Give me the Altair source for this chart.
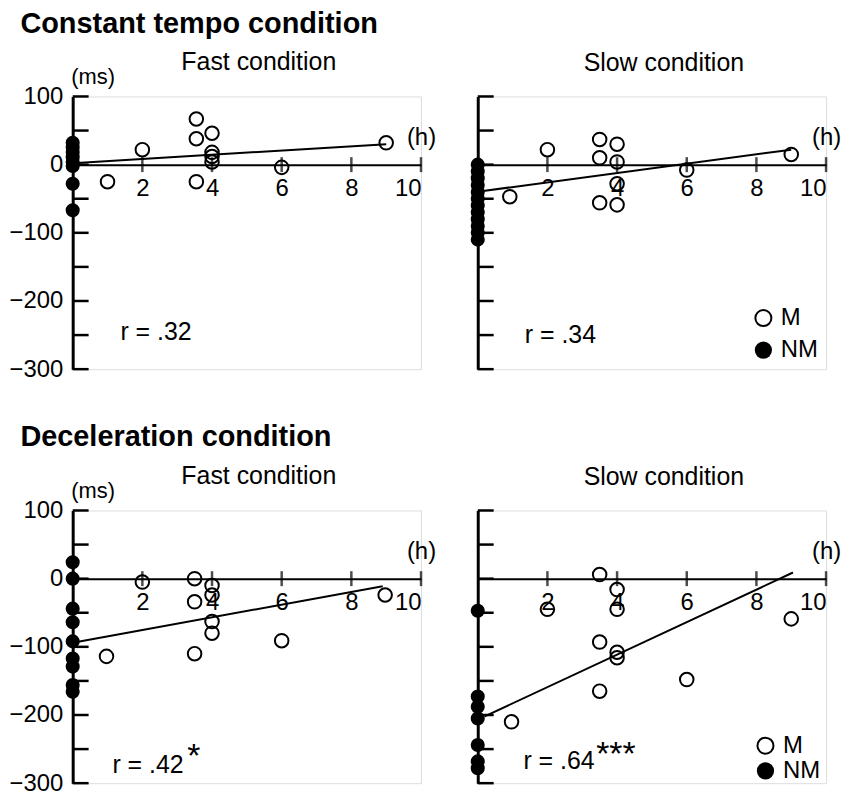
import altair as alt
import pandas as pd

# ---------------- data ----------------
X_TICKS = [2, 4, 6, 8, 10]
Y_TICKS = [100, 50, 0, -50, -100, -150, -200, -250, -300]
Y_LABELS = [100, 0, -100, -200, -300]

# Constant tempo – Fast
tl_m_x = [1.0, 2.0, 3.55, 3.55, 3.55, 4.0, 4.0, 4.0, 4.0, 6.0, 9.0]
tl_m_y = [-25, 22, 67, 38, -25, 46, 18, 12, 4, -4, 32]
tl_nm_y = [32, 25, 18, 11, 4, -2, -28, -67]
tl_line_x = [0, 9]
tl_line_y = [2, 30]

# Constant tempo – Slow
tr_m_x = [0.92, 2.0, 3.5, 3.5, 3.5, 4.0, 4.0, 4.0, 4.0, 6.0, 9.0]
tr_m_y = [-47, 22, 37, 10, -56, 30, 4, -28, -59, -8, 15]
tr_nm_y = [0, -10, -20, -30, -40, -50, -60, -70, -80, -90, -100, -110]
tr_line_x = [0.1, 9]
tr_line_y = [-39, 22]

# Deceleration – Fast
bl_m_x = [0.97, 2.0, 3.5, 3.5, 3.5, 4.0, 4.0, 4.0, 4.0, 6.0, 8.97]
bl_m_y = [-114, -5, 0, -34, -110, -10, -24, -63, -80, -91, -24]
bl_nm_y = [24, 0, -44, -64, -92, -117, -129, -156, -166]
bl_line_x = [0, 8.9]
bl_line_y = [-94, -11]

# Deceleration – Slow
br_m_x = [0.97, 2.0, 3.5, 3.5, 3.5, 4.0, 4.0, 4.0, 4.0, 6.0, 9.0]
br_m_y = [-210, -45, 6, -93, -165, -16, -45, -108, -116, -148, -59]
br_nm_y = [-47, -173, -188, -205, -244, -268, -278]
br_line_x = [0.2, 9.05]
br_line_y = [-202, 9]

FONT = "Liberation Sans"
W, H = 350, 274

xscale = alt.Scale(domain=[0, 10], nice=False, zero=False)
yscale = alt.Scale(domain=[-300, 100], nice=False, zero=False)

xaxis = alt.Axis(values=X_TICKS, offset=-H * 300 / 400, ticks=False, tickSize=0,
                 labelPadding=12, labelFontSize=24, labelColor="black", labelFont=FONT,
                 domainWidth=2, domainColor="black", grid=False,
                 title="(h)", titleX=350, titleY=-27, titleAngle=0, titleAlign="center",
                 titleBaseline="middle", titleFontSize=24, titleFontWeight="normal",
                 titleColor="black", titleFont=FONT)

yaxis_left = alt.Axis(values=Y_LABELS, ticks=False, tickSize=0, labelPadding=10,
                      labelFontSize=24, labelColor="black", labelFont=FONT,
                      domainWidth=3, domainColor="black", grid=False,
                      title="(ms)", titleX=20, titleY=-20, titleAngle=0, titleAlign="center",
                      titleBaseline="middle", titleFontSize=22, titleFontWeight="normal",
                      titleColor="black", titleFont=FONT)

yaxis_right = alt.Axis(labels=False, ticks=False, domainWidth=3, domainColor="black",
                       grid=False, title=None)


def panel(mx, my, nmy, lx, ly, r_label, r_pos, star, star_pos, subtitle, left, legend):
    yaxis = yaxis_left if left else yaxis_right
    X = alt.X("x:Q", scale=xscale, axis=xaxis)
    Y = alt.Y("y:Q", scale=yscale, axis=yaxis)

    m_df = pd.DataFrame({"x": mx, "y": my})
    nm_df = pd.DataFrame({"x": [0] * len(nmy), "y": nmy})
    line_df = pd.DataFrame({"x": lx, "y": ly})
    xt_df = pd.DataFrame({"x": X_TICKS, "y": [0] * len(X_TICKS)})
    yt_df = pd.DataFrame({"y": Y_TICKS})

    layers = [
        alt.Chart(line_df).mark_line(color="black", strokeWidth=2).encode(x=X, y=Y),
        alt.Chart(xt_df).mark_tick(orient="vertical", color="black", size=15, thickness=2.5)
        .encode(x=X, y=Y),
        alt.Chart(yt_df).mark_rule(color="black", strokeWidth=2.5)
        .encode(y=Y, x=alt.value(0), x2=alt.value(16)),
        alt.Chart(m_df).mark_point(shape="circle", filled=False, color="black",
                                   size=185, strokeWidth=2, opacity=1).encode(x=X, y=Y),
        alt.Chart(nm_df).mark_circle(color="black", size=200, opacity=1).encode(x=X, y=Y),
    ]

    txt = pd.DataFrame({"x": [r_pos[0]], "y": [r_pos[1]], "t": [r_label]})
    layers.append(alt.Chart(txt).mark_text(align="left", baseline="middle", fontSize=25,
                                           font=FONT, color="black")
                  .encode(x=X, y=Y, text="t:N"))
    if star:
        st = pd.DataFrame({"x": [star_pos[0]], "y": [star_pos[1]], "t": [star]})
        layers.append(alt.Chart(st).mark_text(align="left", baseline="alphabetic", fontSize=34,
                                              font=FONT, color="black")
                      .encode(x=X, y=Y, text="t:N"))
    if legend:
        lx0, ly0, ly1 = legend
        lg_m = pd.DataFrame({"x": [lx0], "y": [ly0]})
        lg_nm = pd.DataFrame({"x": [lx0], "y": [ly1]})
        lg_t = pd.DataFrame({"x": [lx0 + 0.5, lx0 + 0.5], "y": [ly0, ly1], "t": ["M", "NM"]})
        layers += [
            alt.Chart(lg_m).mark_point(shape="circle", filled=False, color="black",
                                       size=260, strokeWidth=2, opacity=1).encode(x=X, y=Y),
            alt.Chart(lg_nm).mark_circle(color="black", size=300, opacity=1).encode(x=X, y=Y),
            alt.Chart(lg_t).mark_text(align="left", baseline="middle", fontSize=24,
                                      font=FONT, color="black").encode(x=X, y=Y, text="t:N"),
        ]

    return alt.layer(*layers).properties(
        width=W, height=H,
        title=alt.TitleParams(subtitle, fontSize=25, fontWeight="normal", font=FONT,
                              anchor="middle", frame="group", offset=-9 if left else 19,
                              dx=12, color="black"),
    )


tl = panel(tl_m_x, tl_m_y, tl_nm_y, tl_line_x, tl_line_y, "r = .32", (1.37, -245),
           None, None, "Fast condition", True, None)
tr = panel(tr_m_x, tr_m_y, tr_nm_y, tr_line_x, tr_line_y, "r = .34", (1.35, -250),
           None, None, "Slow condition", False, (8.2, -225, -272))
bl = panel(bl_m_x, bl_m_y, bl_nm_y, bl_line_x, bl_line_y, "r = .42", (1.14, -273),
           "*", (3.29, -277), "Fast condition", True, None)
br = panel(br_m_x, br_m_y, br_nm_y, br_line_x, br_line_y, "r = .64", (1.31, -267),
           "***", (3.4, -274), "Slow condition", False, (8.26, -245, -282))

row1 = alt.hconcat(tl, tr, spacing=33).properties(
    title=alt.TitleParams("Constant tempo condition", fontSize=29, fontWeight="bold",
                          font=FONT, anchor="start", dx=12, offset=10, color="black"))
row2 = alt.hconcat(bl, br, spacing=33).properties(
    title=alt.TitleParams("Deceleration condition", fontSize=29, fontWeight="bold",
                          font=FONT, anchor="start", dx=12, offset=11, color="black"))

chart = alt.vconcat(row1, row2, spacing=41).properties(
    padding={"left": 0, "top": 0, "right": 0, "bottom": 0}
).configure_view(stroke=None).configure(font=FONT)

chart.save("out.html", embed_options={"renderer": "svg", "actions": False})
